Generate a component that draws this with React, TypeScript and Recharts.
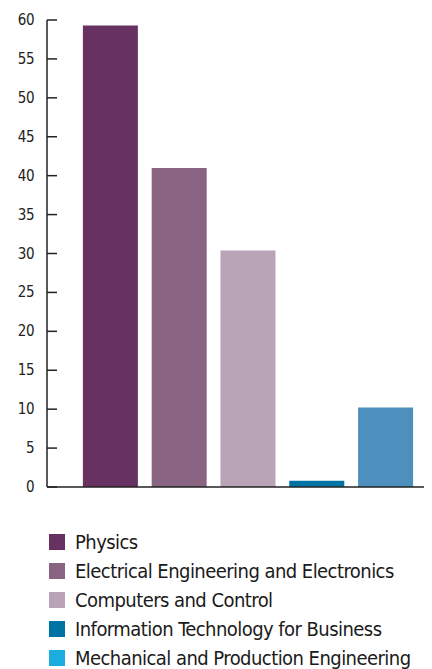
import React from "react";
import { BarChart, Bar, XAxis, YAxis, Cell } from "recharts";

const subjects: string[] = [
  "Physics",
  "Electrical Engineering and Electronics",
  "Computers and Control",
  "Information Technology for Business",
  "Mechanical and Production Engineering",
];
const values: number[] = [59.3, 41.0, 30.4, 0.8, 10.2];
const barColors: string[] = ["#673262", "#886482", "#b8a3b7", "#0073a5", "#4d90bd"];
const legendColors: string[] = ["#673262", "#886482", "#b8a3b7", "#0073a5", "#1badde"];
const yTicks: number[] = [0, 5, 10, 15, 20, 25, 30, 35, 40, 45, 50, 55, 60];

const font = "'DejaVu Sans Condensed', 'Liberation Sans Narrow', sans-serif";

const data = subjects.map((name, i) => ({ name, value: values[i] }));

const YTick = (props: any) => {
  const { x, y, payload } = props;
  return (
    <g>
      <line x1={x} x2={x + 10} y1={y} y2={y} stroke="#222" strokeWidth={1.5} />
      <text
        x={x - 13}
        y={y}
        textAnchor="end"
        dominantBaseline="central"
        fontSize={15}
        fontFamily={font}
        letterSpacing={-0.5}
        fill="#222"
      >
        {payload.value}
      </text>
    </g>
  );
};

const App: React.FC = () => {
  return (
    <div style={{ width: 424 }}>
      <BarChart
        width={424}
        height={490}
        data={data}
        margin={{ top: 12, right: 0, left: 0, bottom: 10 }}
        barCategoryGap="10%"
      >
        <XAxis
          dataKey="name"
          tick={false}
          tickLine={false}
          height={1}
          padding={{ left: 29, right: 12 }}
          axisLine={{ stroke: "#222", strokeWidth: 1.5 }}
        />
        <YAxis
          width={39}
          domain={[0, 60]}
          ticks={yTicks}
          interval={0}
          tickSize={0}
          tickMargin={0}
          tickLine={false}
          tick={<YTick />}
          axisLine={{ stroke: "#222", strokeWidth: 1.5 }}
        />
        <Bar dataKey="value" isAnimationActive={false}>
          {data.map((d, i) => (
            <Cell key={d.name} fill={barColors[i]} />
          ))}
        </Bar>
      </BarChart>
      <div style={{ marginTop: 29, marginLeft: 41, fontFamily: font }}>
        {subjects.map((s, i) => (
          <div
            key={s}
            style={{
              display: "flex",
              alignItems: "center",
              height: 29,
              fontSize: 20,
              letterSpacing: -0.55,
              color: "#1a1a1a",
            }}
          >
            <span
              style={{ width: 16, height: 16, background: legendColors[i], marginRight: 10, flex: "none" }}
            />
            <span style={{ whiteSpace: "nowrap" }}>{s}</span>
          </div>
        ))}
      </div>
    </div>
  );
};

export default App;
